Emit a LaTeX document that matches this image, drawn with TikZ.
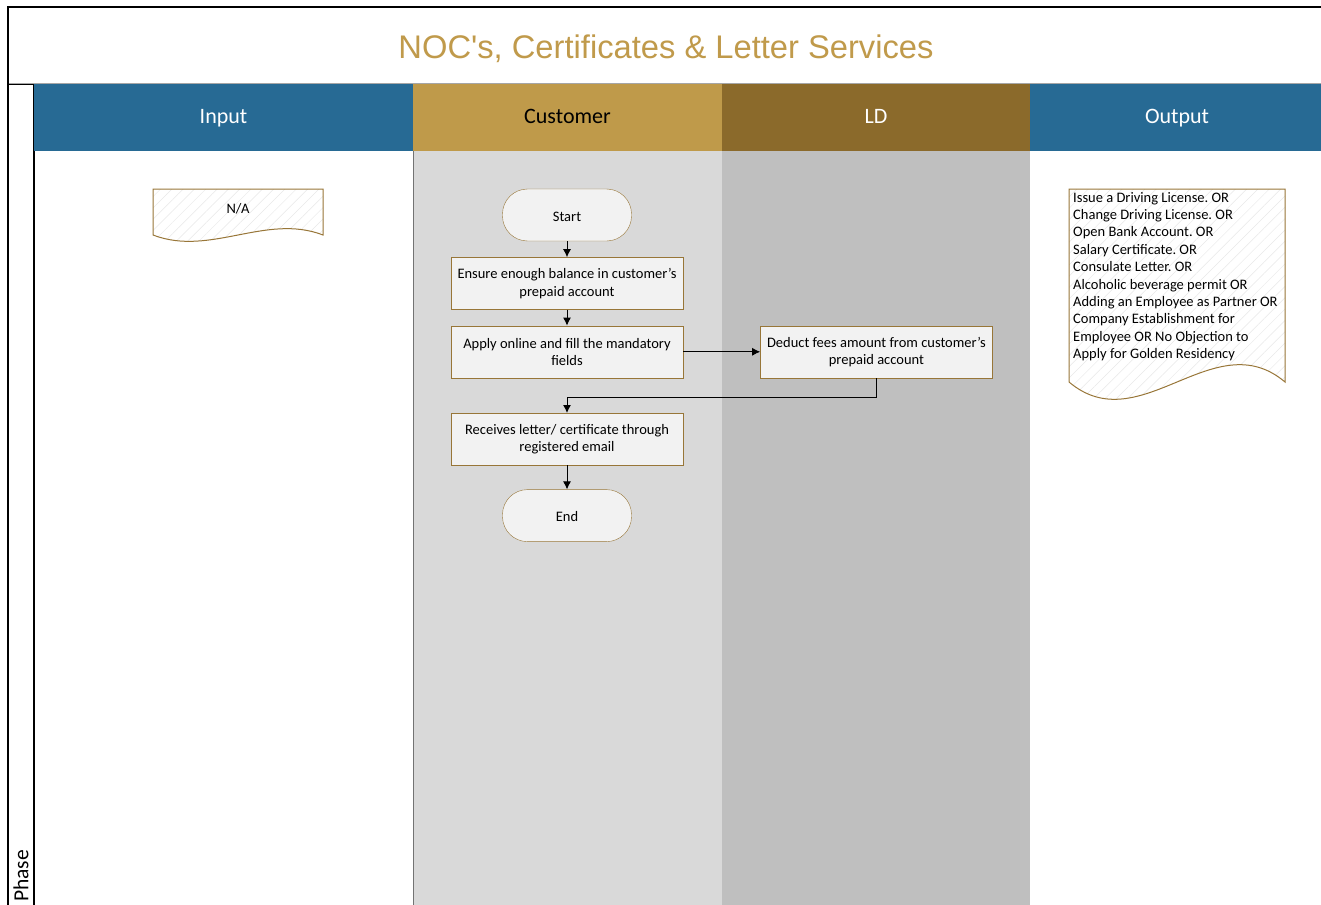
\documentclass[tikz,border=0pt]{standalone}
\usepackage{fontspec}
\setmainfont{Carlito}
\newfontfamily\titlefont{Liberation Sans}
\usetikzlibrary{arrows.meta,positioning,patterns.meta}

\definecolor{headblue}{RGB}{39,106,148}
\definecolor{headgold}{RGB}{191,154,74}
\definecolor{headbrown}{RGB}{139,106,43}
\definecolor{lanelight}{RGB}{217,217,217}
\definecolor{lanedark}{RGB}{191,191,191}
\definecolor{boxfill}{RGB}{242,242,242}
\definecolor{boxedge}{RGB}{152,118,56}
\definecolor{titlegold}{RGB}{192,154,75}
\frenchspacing

\begin{document}
\begin{tikzpicture}[x=1pt, y=-1pt, node distance=16pt, auto]
        % Define block styles
        \tikzstyle{block} = [rectangle, draw=boxedge, fill=boxfill, align=center, minimum width=232pt, minimum height=52pt, inner sep=3pt, font=\fontsize{14.5}{17.4}\selectfont]
        \tikzstyle{terminal} = [rectangle, draw=boxedge, fill=boxfill, rounded corners=25pt, minimum width=129pt, minimum height=52pt, text height=12pt, text depth=0pt, font=\fontsize{14.5}{17.4}\selectfont]
        \tikzstyle{header} = [rectangle, minimum height=67pt, inner sep=0pt, text height=18pt, text depth=5pt, font=\fontsize{22}{26}\selectfont]
        \tikzstyle{docshape} = [draw=boxedge, line width=1pt, preaction={fill=white}, preaction={pattern={Lines[angle=45, distance=8pt, line width=0.5pt]}, pattern color=black!9}]
        \tikzstyle{line} = [draw, line width=1pt, -{Latex[length=8pt, width=8pt]}]

        \useasboundingbox (0,0) rectangle (1321,904);
        \clip (0,0) rectangle (1321,904);

        % Lanes
        \fill[lanelight] (413,151) rectangle (722,910);
        \fill[lanedark] (722,151) rectangle (1030,910);
        \draw[black!55] (413,151) -- (413,910);

        % Frame and title
        \draw[black!35] (8,83.5) -- (1330,83.5);
        \draw[line width=1.5pt] (1330,7) -- (8,7) -- (8,910);
        \draw[line width=1.2pt] (8,84.5) -- (34,84.5) -- (34,910);
        \node[text=titlegold, font=\titlefont\fontsize{32.7}{36}\selectfont] (title) at (666,48.5) {NOC's, Certificates \& Letter Services};
        \node[rotate=90, anchor=west, inner sep=1pt, font=\fontsize{21.5}{24}\selectfont] (phase) at (21,903) {Phase};

        % Headers
        \node[header, fill=headblue, text=white, minimum width=379pt] (input_head) at (223.5,117.5) {Input};
        \node[header, fill=headgold, text=black, minimum width=309pt] (customer_head) at (567.5,117.5) {Customer};
        \node[header, fill=headbrown, text=white, minimum width=308pt] (ld_head) at (876,117.5) {LD};
        \node[header, fill=headblue, text=white, minimum width=294pt] (output_head) at (1177,117.5) {Output};

        % Documents
        \path[docshape] (153,189) -- (323,189) -- (323,235) .. controls (266,213) and (210,257) .. (153,235) -- cycle;
        \node[font=\fontsize{14.5}{17.4}\selectfont] (na) at (238,208.5) {N/A};
        \path[docshape] (1069,189) -- (1285,189) -- (1285,382) .. controls (1214,322) and (1140,442) .. (1069,382) -- cycle;
        \node[anchor=north west, inner sep=2pt, align=left, font=\fontsize{14.5}{17.4}\selectfont] (outputs) at (1071,190) {Issue a Driving License. OR\\Change Driving License. OR\\Open Bank Account. OR\\Salary Certificate. OR\\Consulate Letter. OR\\Alcoholic beverage permit OR\\Adding an Employee as Partner OR\\Company Establishment for\\Employee OR No Objection to\\Apply for Golden Residency};

        % Nodes
        \node [terminal] (Start) at (567,215) {Start};
        \node [block, below=16pt of Start] (Ensure_Balance) {Ensure enough balance in customer’s\\prepaid account};
        \node [block, below=16pt of Ensure_Balance] (Apply_Online) {Apply online and fill the mandatory\\fields};
        \node [block, right=77pt of Apply_Online] (Deduct_Fees) {Deduct fees amount from customer’s\\prepaid account};
        \node [block, below=35pt of Apply_Online] (Receives_Letter) {Receives letter/ certificate through\\registered email};
        \node [terminal, below=24pt of Receives_Letter] (End) {End};

        % Arrows
        \path [line] (Start.south) -- (Ensure_Balance.north);
        \path [line] (Ensure_Balance.south) -- (Apply_Online.north);
        \path [line] (Apply_Online.east) -- (Deduct_Fees.west);
        \path [line] (Deduct_Fees.south) -- ++(0,19) -| (Receives_Letter.north);
        \path [line] (Receives_Letter.south) -- (End.north);
    \end{tikzpicture}
\end{document}
